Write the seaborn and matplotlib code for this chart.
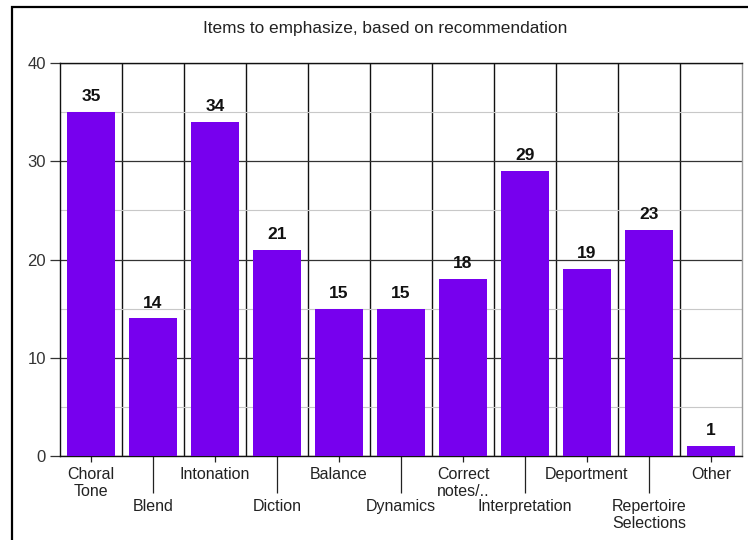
import matplotlib
matplotlib.use("Agg")
import matplotlib.pyplot as plt
from matplotlib.patches import Rectangle
import seaborn as sns
import pandas as pd

categories = ["Choral\nTone", "Blend", "Intonation", "Diction", "Balance", "Dynamics",
              "Correct\nnotes/..", "Interpretation", "Deportment",
              "Repertoire\nSelections", "Other"]
counts = [35, 14, 34, 21, 15, 15, 18, 29, 19, 23, 1]
title = "Items to emphasize, based on recommendation"
y_ticks = [0, 10, 20, 30, 40]

sns.set_theme(style="white")
plt.rcParams["font.family"] = ["Liberation Sans", "DejaVu Sans"]

df = pd.DataFrame({"item": categories, "count": counts})

fig = plt.figure(figsize=(7.48, 5.40), dpi=100)
ax = fig.add_axes([60 / 748, 1 - 456 / 540, 682 / 748, (456 - 63) / 540])

sns.barplot(data=df, x="item", y="count", color="#7700EE", saturation=1,
            width=0.77, linewidth=0, edgecolor="none", ax=ax, zorder=3)

n = len(categories)
ax.set_xlim(-0.5, n - 0.5)
ax.set_ylim(0, 40)
ax.set_yticks(y_ticks)
ax.set_yticks([5, 15, 25, 35], minor=True)
ax.set_xticks(range(n))
ax.set_xticklabels(categories, fontsize=11.5, color="#222222", linespacing=1.15)
ax.set_xticks([i + 0.5 for i in range(n - 1)], minor=True)

# gridlines: dark majors, light minors, category separators
ax.grid(False)
ax.grid(axis="y", which="major", color="#333333", linewidth=0.9, zorder=1)
ax.grid(axis="y", which="minor", color="#c8c8c8", linewidth=0.8, zorder=1)
ax.grid(axis="x", which="minor", color="#111111", linewidth=1.0, zorder=1)
ax.set_axisbelow(True)

ax.tick_params(axis="y", which="major", left=True, length=7, width=0.9,
               color="#333333", labelsize=12, labelcolor="#333333", pad=3)
ax.tick_params(axis="y", which="minor", left=False)
ax.tick_params(axis="x", which="minor", bottom=False)
ax.tick_params(axis="x", which="major", bottom=True, length=4.3, width=0.9,
               color="#222222", pad=3.5)

# staggered category labels: odd positions sit on a longer tick
for i, tick in enumerate(ax.xaxis.get_major_ticks()):
    if i % 2 == 1:
        tick.set_pad(26.5)
        tick.tick1line.set_markersize(26.6)

for side in ["left", "top", "bottom"]:
    ax.spines[side].set_color("#111111")
    ax.spines[side].set_linewidth(1.0)
ax.spines["right"].set_color("#999999")
ax.spines["right"].set_linewidth(1.0)

ax.set_xlabel("")
ax.set_ylabel("")

for i, v in enumerate(counts):
    ax.text(i, v + 0.8, str(v), ha="center", va="bottom", fontsize=12.5,
            fontweight="bold", color="#111111", zorder=4)

fig.text(385 / 748, 1 - 29 / 540, title, ha="center",
         va="center", fontsize=12.4, color="#222222")

# outer frame
fig.add_artist(Rectangle((12 / 748, -0.05), 1.0, 1 - 7 / 540 + 0.05,
                         transform=fig.transFigure, fill=False,
                         edgecolor="black", linewidth=1.6))

fig.savefig("out.png", dpi=100)
